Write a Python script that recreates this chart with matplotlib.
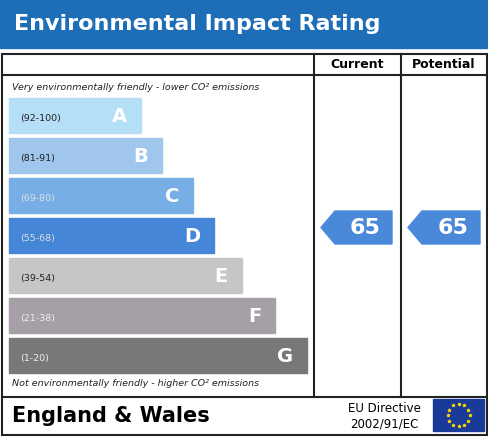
import matplotlib
matplotlib.use("Agg")
import matplotlib.pyplot as plt
from matplotlib.patches import Rectangle, Polygon
import numpy as np

bands = ["A", "B", "C", "D", "E", "F", "G"]
ranges = ["(92-100)", "(81-91)", "(69-80)", "(55-68)", "(39-54)", "(21-38)", "(1-20)"]
bar_ends = [141, 162, 193, 214, 242, 275, 307]
colors = ["#b5def7", "#a0c6ee", "#78aee6", "#4686d8", "#c6c6c6", "#a79fa7", "#787878"]
current = 65
potential = 65

fig = plt.figure(figsize=(4.89, 4.37), dpi=100)
ax = fig.add_axes([0, 0, 1, 1])
ax.set_xlim(0, 489); ax.set_ylim(437, 0); ax.axis("off")

ax.add_patch(Rectangle((0, 0), 489, 48, color="#1d6db7"))
ax.text(14, 24, "Environmental Impact Rating", color="white", fontsize=16, fontweight="bold", va="center")

lw = 1.5
ax.add_patch(Rectangle((2, 54), 485, 381, fill=False, lw=lw, ec="#222"))
ax.plot([2, 487], [75, 75], color="#222", lw=lw)
ax.plot([2, 487], [397, 397], color="#222", lw=lw)
for x in (314, 401):
    ax.plot([x, x], [54, 397], color="#222", lw=lw)
ax.text(357, 65, "Current", ha="center", va="center", fontsize=9, fontweight="bold")
ax.text(444, 65, "Potential", ha="center", va="center", fontsize=9, fontweight="bold")

ax.text(12, 88, "Very environmentally friendly - lower CO² emissions", fontsize=6.8, style="italic", va="center", color="#222")
ax.text(12, 383, "Not environmentally friendly - higher CO² emissions", fontsize=6.8, style="italic", va="center", color="#222")

for i, (b, r, e, c) in enumerate(zip(bands, ranges, bar_ends, colors)):
    y0 = 98 + 40 * i
    ax.add_patch(Rectangle((9, y0), e - 9, 35, color=c))
    ax.text(20, y0 + 21, r, fontsize=6.8, va="center", color="#222" if i < 2 or i == 4 else ("#eee" if i in (5, 6) else "#ddd"))
    ax.text(e - 14, y0 + 18, b, fontsize=14, fontweight="bold", color="white", ha="right", va="center")

def arrow(x0, x1, val):
    y0, y1 = 211, 244
    ym = (y0 + y1) / 2
    ax.add_patch(Polygon([(x0, ym), (x0 + 14, y0), (x1, y0), (x1, y1), (x0 + 14, y1)], color="#4a89d9"))
    ax.text((x0 + 14 + x1) / 2 + 2, ym + 1, str(val), color="white", fontsize=16, fontweight="bold", ha="center", va="center")

arrow(321, 392, current)
arrow(408, 480, potential)

ax.text(12, 416, "England & Wales", fontsize=15, fontweight="bold", va="center")
ax.text(384, 416, "EU Directive\n2002/91/EC", fontsize=8.5, ha="center", va="center", linespacing=1.3)
ax.add_patch(Rectangle((433, 399), 51, 32, color="#1a3a9a"))
ang = np.linspace(0, 2 * np.pi, 12, endpoint=False)
ax.scatter(458.5 + 11 * np.cos(ang), 415 + 11 * np.sin(ang), s=3, color="#f5d000", marker="*")

fig.savefig("out.png", dpi=100)
